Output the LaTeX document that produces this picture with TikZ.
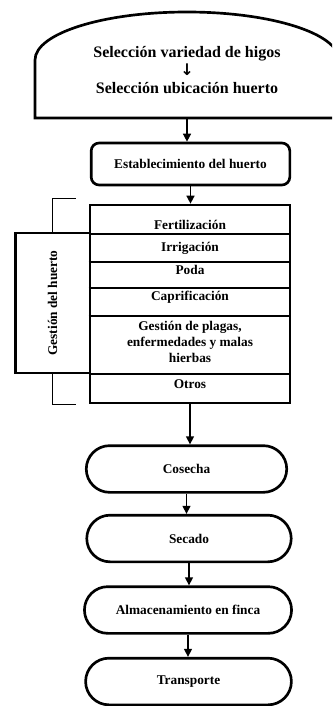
\documentclass[tikz,border=0pt]{standalone}
\usepackage{fontspec}
\setmainfont{Liberation Serif}
\newfontfamily\arrowfont{DejaVu Sans}
\usetikzlibrary{shapes.misc,arrows.meta}

\begin{document}
\begin{tikzpicture}[x=0.75pt,y=-0.75pt]
        \tikzstyle{proc}=[draw,line width=2pt,rounded corners=6pt,minimum width=149pt,minimum height=31.5pt,font=\bfseries]
        \tikzstyle{term}=[draw,line width=2pt,rounded rectangle,minimum height=35pt,font=\bfseries]
        \tikzstyle{task}=[font=\bfseries,align=center,inner sep=0pt]
        \tikzstyle{edge}=[draw,line width=1.1pt,-{Triangle[length=6pt,width=6pt]}]
        \tikzstyle{bracket}=[draw,line width=0.8pt]
        \useasboundingbox (0,0) rectangle (332,706);
        \clip (0,0) rectangle (332,706);
        % seleccion
        \node [task,font=\bfseries\fontsize{12}{13.5}\selectfont] (sel) at (187,70) {Selección variedad de higos\\{\arrowfont ↓}\\Selección ubicación huerto};
        \draw[line width=2pt] (35,118) -- (35,60) arc[start angle=180,end angle=360,x radius=152,y radius=48] -- (339,118) -- cycle;
        \coordinate (selbot) at (187,118);
        \node [proc] (est) at (190.5,164) {Establecimiento del huerto};
        % gestion del huerto
        \node [draw,line width=2pt,minimum width=150pt,minimum height=148.5pt] (gest) at (190,304) {};
        \foreach \yy in {234,262,288,316,374}
           \draw[line width=1.3pt] (gest.west |- 0,\yy) -- (gest.east |- 0,\yy);
        \node [task] (fert) at (190,225) {Fertilización};
        \node [task] (irr) at (190,248) {Irrigación};
        \node [task] (poda) at (190,270) {Poda};
        \node [task] (capr) at (190,297) {Caprificación};
        \node [task] (plag) at (190,342) {Gestión de plagas,\\enfermedades y malas\\hierbas};
        \node [task] (otros) at (190,384) {Otros};
        \node [draw,line width=2pt,rotate=90,minimum width=105pt,minimum height=56pt,font=\bfseries] (side) at (52.5,303) {Gestión del huerto};
        \path[bracket] (side.east) -- ++(0,-33) -- ++(23,0);
        \path[bracket] (side.west) -- ++(0,30) -- ++(23,0);
        % etapas finales
        \node [term,minimum width=157pt] (cos) at (186.5,469) {Cosecha};
        \node [term,minimum width=160pt] (sec) at (189,538.5) {Secado};
        \node [term,minimum width=162pt] (alm) at (188,610) {Almacenamiento en finca};
        \node [term,minimum width=161pt] (tra) at (188.5,681.5) {Transporte};
        \path[edge] (selbot) -- (selbot |- est.north);
        \path[edge] (est.south) -- (est.south |- gest.north);
        \path[edge] (gest.south) -- (gest.south |- cos.north);
        \path[edge] (cos.south) -- (cos.south |- sec.north);
        \path[edge] (sec.south) -- (sec.south |- alm.north);
        \path[edge] (alm.south) -- (alm.south |- tra.north);
\end{tikzpicture}
\end{document}
